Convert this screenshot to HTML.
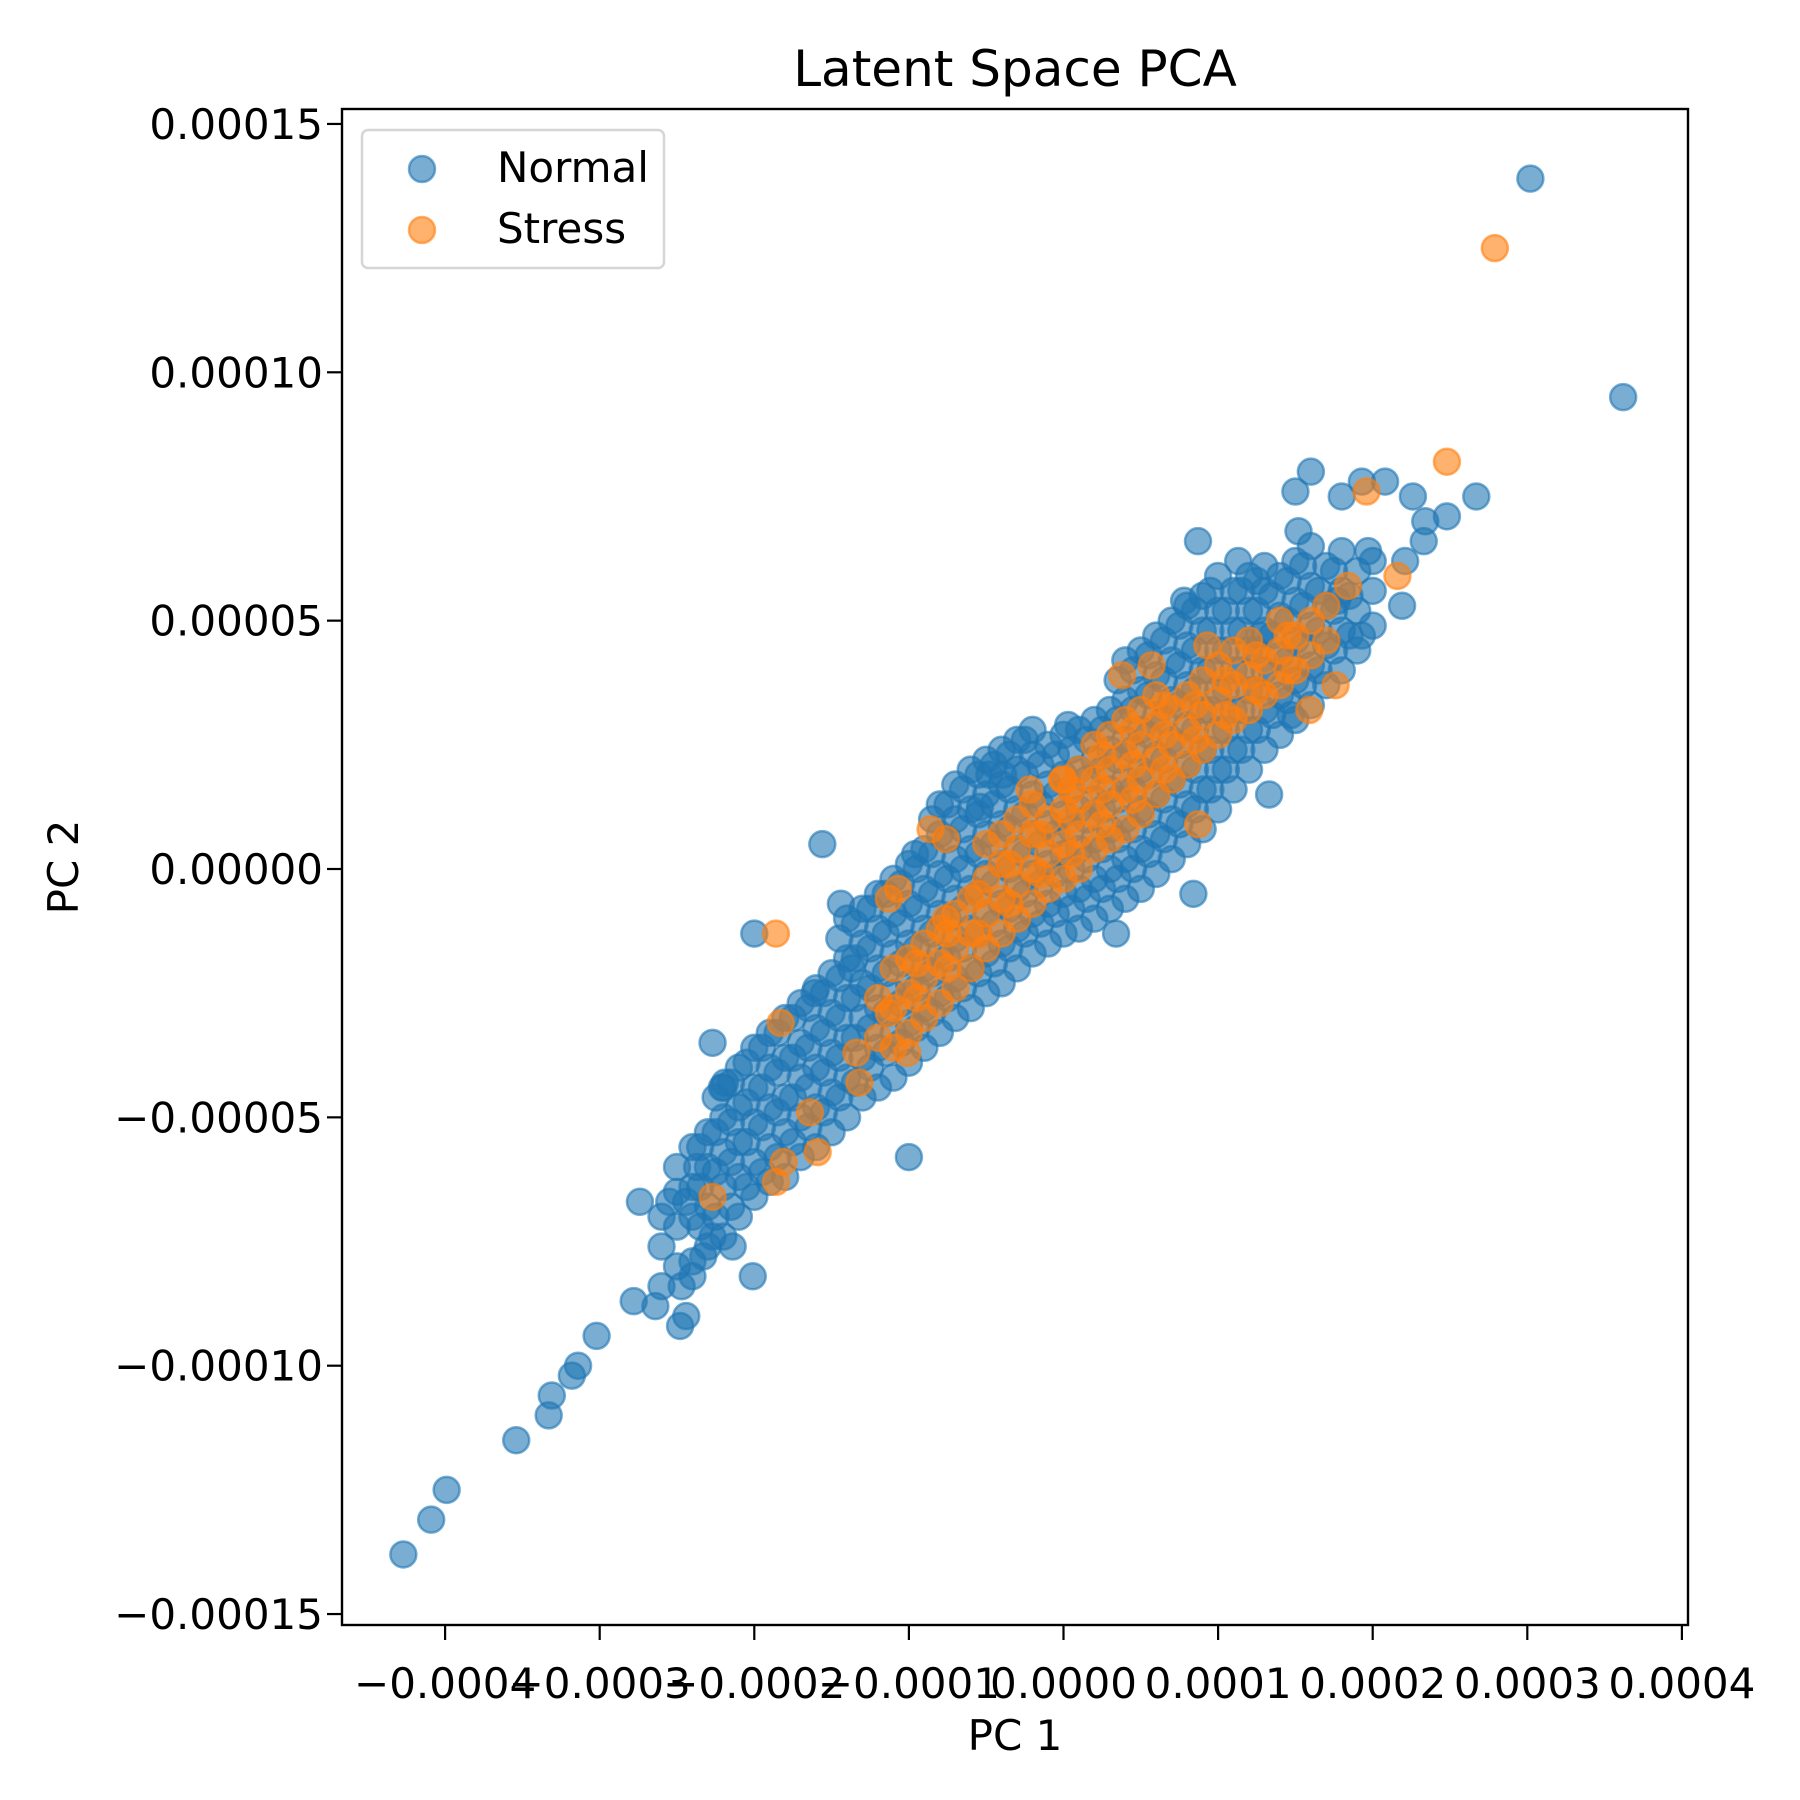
<!DOCTYPE html>
<html><head><meta charset="utf-8"><style>
html,body{margin:0;padding:0;background:#fff;}
svg{display:block;font-family:"DejaVu Sans","Liberation Sans",sans-serif;}
</style></head><body>
<svg id="chart" width="1800" height="1800" viewBox="0 0 1800 1800" xmlns="http://www.w3.org/2000/svg">
<rect width="1800" height="1800" fill="#fff"/>
<text x="1015" y="86" font-size="50" text-anchor="middle">Latent Space PCA</text>
<g id="marks"></g>
<rect x="342" y="109" width="1346" height="1516" fill="none" stroke="#000" stroke-width="2.4"/>
<g id="xticks"></g>
<g id="yticks"></g>
<text x="1015" y="1750" font-size="42" text-anchor="middle">PC 1</text>
<text x="78" y="867" font-size="42" text-anchor="middle" transform="rotate(-90 78 867)">PC 2</text>
<g>
<rect x="362" y="130" width="302" height="138" rx="6" fill="#fff" fill-opacity="0.8" stroke="#d6d6d6" stroke-width="2.5"/>
<circle cx="422" cy="169" r="13" fill="rgba(31,119,180,0.6)" stroke="rgba(31,119,180,0.6)" stroke-width="2.5"/>
<text x="497" y="182" font-size="42">Normal</text>
<circle cx="422" cy="230" r="13" fill="rgba(255,127,14,0.6)" stroke="rgba(255,127,14,0.6)" stroke-width="2.5"/>
<text x="497" y="243" font-size="42">Stress</text>
</g>
</svg>
<script>
// values in units of 1e-5
const xTicks = [-40, -30, -20, -10, 0, 10, 20, 30, 40];
const xTickLabels = ["\u22120.0004","\u22120.0003","\u22120.0002","\u22120.0001","0.0000","0.0001","0.0002","0.0003","0.0004"];
const yTicks = [-15, -10, -5, 0, 5, 10, 15];
const yTickLabels = ["\u22120.00015","\u22120.00010","\u22120.00005","0.00000","0.00005","0.00010","0.00015"];
const normalOutliers = [[30.2,13.9],[36.2,9.5],[-42.7,-13.8],[-40.9,-13.1],[-39.9,-12.5],[-35.4,-11.5],[-33.3,-11.0],[-33.1,-10.6],[-31.8,-10.2],[-31.4,-10.0],[-30.2,-9.4],[-27.8,-8.7],[-26.4,-8.8],[-24.8,-9.2],[-24.4,-9.0],[-24.7,-8.4],[-24,-8.2],[-27.4,-6.7],[-25.5,-6.7],[-24.4,-6.7],[-23.7,-6.0],[-22.7,-3.5],[-22.1,-4.4],[-21.9,-4.3],[-20,-1.3],[-15.6,0.5],[-14.4,-0.7],[-9.6,0.3],[-20.1,-8.2],[-21.4,-7.6],[-23.3,-7.8],[-22.7,-7.4],[-10,-5.8],[-13.7,-2.0],[-16.1,-2.5],[13.3,1.5],[8.4,-0.5],[8.7,6.6],[11.3,6.2],[16,8],[15,7.6],[18,7.5],[19.3,7.8],[20.8,7.8],[22.6,7.5],[26.7,7.5],[24.8,7.1],[23.4,7.0],[23.3,6.6],[22.1,6.2],[21.9,5.3],[19.7,6.4],[15.2,6.8],[17.7,5.4],[19.3,4.7],[0.3,2.9],[-4.8,1.9],[-3.9,1.9],[-5.4,1.25],[14.7,3.1],[7.8,5.4],[12.7,4.7],[3.4,-1.3]];
// rows: x followed by y values
const normalBand = [
[-26,-8.4,-7.6,-7.0],[-25,-8.0,-7.2,-6.5,-6.0],[-24,-7.9,-7.0,-6.4,-5.6],[-23,-7.6,-6.8,-6.0,-5.3],
[-22,-7.4,-6.4,-5.7,-5.0,-4.4],[-21,-7.0,-6.2,-5.5,-4.8,-4.0],[-20,-6.6,-5.9,-5.1,-4.4,-3.6],
[-19,-6.3,-5.6,-4.8,-4.0,-3.3],[-18,-6.2,-5.3,-4.6,-3.8,-3.0],[-17,-5.8,-5.0,-4.2,-3.5,-2.7],
[-16,-5.6,-4.8,-4.0,-3.2,-2.4],[-15,-5.3,-4.5,-3.7,-2.9,-2.1],[-14,-5.0,-4.2,-3.4,-2.6,-1.8,-1.0],
[-13,-4.6,-3.8,-3.0,-2.3,-1.5,-0.8],[-12,-4.4,-3.6,-2.8,-2.0,-1.2,-0.5],[-11,-4.2,-3.3,-2.5,-1.7,-0.9,-0.2],
[-10,-3.9,-3.1,-2.3,-1.5,-0.7,0.1],[-9,-3.6,-2.8,-2.0,-1.2,-0.4,0.4],[-8,-3.3,-2.5,-1.7,-0.9,-0.1,0.7,1.3],
[-7,-3.0,-2.2,-1.4,-0.6,0.2,1.0,1.7],[-6,-2.8,-2.0,-1.2,-0.4,0.4,1.2,2.0],[-5,-2.5,-1.7,-0.9,-0.1,0.7,1.5,2.2],
[-4,-2.3,-1.5,-0.7,0.1,0.9,1.7,2.4],[-3,-2.0,-1.2,-0.4,0.4,1.2,2.0,2.6],[-2,-1.7,-0.9,-0.1,0.7,1.5,2.3,2.8],
[-1,-1.5,-0.7,0.1,0.9,1.7,2.5],[0,-1.3,-0.5,0.3,1.1,1.9,2.7],[1,-1.2,-0.4,0.4,1.2,2.0,2.8],
[2,-1.0,-0.2,0.6,1.4,2.2,3.0],[3,-0.8,0.0,0.8,1.6,2.4,3.2],[4,-0.6,0.2,1.0,1.8,2.6,3.4,4.2],
[5,-0.4,0.4,1.2,2.0,2.8,3.6,4.4],[6,-0.1,0.7,1.5,2.3,3.1,3.9,4.7],[7,0.2,1.0,1.8,2.6,3.4,4.2,5.0],
[8,0.5,1.3,2.1,2.9,3.7,4.5,5.3],[9,0.8,1.6,2.4,3.2,4.0,4.8,5.5],[10,1.2,2.0,2.8,3.6,4.4,5.2,5.9],
[11,1.6,2.4,3.2,4.0,4.8,5.6],[12,2.0,2.8,3.6,4.4,5.2,5.9],[13,2.4,3.2,4.0,4.8,5.6,6.1],
[14,2.7,3.5,4.3,5.1,5.9],[15,3.0,3.8,4.6,5.4,6.2],[16,3.3,4.1,4.9,5.7,6.5],[17,3.7,4.5,5.3,6.1],
[18,4.0,4.8,5.6,6.4],[19,4.4,5.2,6.0],[20,4.9,5.6,6.2]];
const normalBandFill = [
[-23.5,-7.2,-6.4,-5.6],[-22.5,-7.0,-6.1,-5.3,-4.6],[-21.5,-6.8,-5.9,-5.1,-4.3],[-20.5,-6.4,-5.5,-4.7,-3.9],
[-19.5,-6.1,-5.2,-4.4,-3.6],[-18.5,-5.8,-4.9,-4.1,-3.3],[-17.5,-5.5,-4.6,-3.8,-3.0],[-16.5,-5.2,-4.4,-3.6,-2.8],
[-15.5,-4.9,-4.1,-3.3,-2.5],[-14.5,-4.6,-3.8,-3.0,-2.2,-1.4],[-13.5,-4.3,-3.4,-2.6,-1.8,-1.1],
[-12.5,-4.0,-3.2,-2.4,-1.6,-0.8],[-11.5,-3.7,-2.9,-2.1,-1.3,-0.5],[-10.5,-3.5,-2.7,-1.9,-1.1,-0.3],
[-9.5,-3.2,-2.4,-1.6,-0.8,0.0],[-8.5,-2.9,-2.1,-1.3,-0.5,0.3,1.0],[-7.5,-2.6,-1.8,-1.0,-0.2,0.6,1.3],
[-6.5,-2.4,-1.6,-0.8,0.0,0.8,1.6],[-5.5,-2.1,-1.3,-0.5,0.3,1.1,1.9],[-4.5,-1.9,-1.1,-0.3,0.5,1.3,2.1],
[-3.5,-1.6,-0.8,0.0,0.8,1.6,2.3],[-2.5,-1.3,-0.5,0.3,1.1,1.9,2.6],[-1.5,-1.1,-0.3,0.5,1.3,2.1],
[-0.5,-0.9,-0.1,0.7,1.5,2.3],[0.5,-0.8,0.0,0.8,1.6,2.4],[1.5,-0.6,0.2,1.0,1.8,2.6],[2.5,-0.4,0.4,1.2,2.0,2.8],
[3.5,-0.2,0.6,1.4,2.2,3.0,3.8],[4.5,0.0,0.8,1.6,2.4,3.2,4.0],[5.5,0.3,1.1,1.9,2.7,3.5,4.3],
[6.5,0.6,1.4,2.2,3.0,3.8,4.6],[7.5,0.9,1.7,2.5,3.3,4.1,4.9],[8.5,1.2,2.0,2.8,3.6,4.4,5.2],
[9.5,1.6,2.4,3.2,4.0,4.8,5.6],[10.5,2.0,2.8,3.6,4.4,5.2],[11.5,2.4,3.2,4.0,4.8,5.6],[12.5,2.8,3.6,4.4,5.2,5.8],
[13.5,3.1,3.9,4.7,5.5],[14.5,3.4,4.2,5.0,5.8],[15.5,3.7,4.5,5.3,6.1],[16.5,4.0,4.8,5.6],[17.5,4.4,5.2,6.0],[18.5,4.7,5.5]];
const stressOutliers = [[27.9,12.5],[24.8,8.2],[19.6,7.6],[21.6,5.9],[18.4,5.7],[17.6,3.7],[15.9,3.2],[3.8,3.9],[5.7,4.1],[9.3,4.5],[-8.6,0.8],[-7.6,0.6],[-11.3,-0.6],[-10.7,-0.4],[-18.6,-1.3],[-18.3,-3.1],[-18.6,-6.3],[-18.1,-5.9],[-22.7,-6.6],[-16.4,-4.9],[-15.9,-5.7],[-13.4,-3.7],[-13.2,-4.3],[-11.3,-2.9],[-10.1,-3.7],[-7.6,-1.0],[8.7,0.9],[-2.2,1.6],[-0.1,1.8]];
const stressCore = [
[-12,-3.4,-2.6],[-11,-3.6,-2.8,-2.0],[-10,-3.3,-2.5,-1.8],[-9,-3.0,-2.2,-1.5],[-8,-2.7,-1.9,-1.2],
[-7,-2.4,-1.6,-0.9],[-6,-2.0,-1.3,-0.6],[-5,-1.6,-0.9,-0.2,0.5],[-4,-1.3,-0.6,0.1,0.7],[-3,-1.0,-0.3,0.4,1.0],
[-2,-0.7,0.0,0.7,1.3],[-1,-0.4,0.3,1.0],[0,-0.2,0.5,1.2,1.8],[1,0.0,0.7,1.4,2.0],[2,0.4,1.1,1.8,2.5],
[3,0.6,1.3,2.0,2.7],[4,0.8,1.6,2.3,3.0],[5,1.1,1.8,2.5,3.2],[6,1.5,2.2,2.9,3.5],[7,1.8,2.5,3.2],
[8,2.1,2.8,3.5],[9,2.4,3.1,3.8],[10,2.7,3.4,4.1],[11,3.0,3.7,4.4],[12,3.2,3.9,4.6],[13,3.5,4.2],
[14,3.7,4.4,5.0],[15,4.0,4.7],[16,4.3,5.0],[17,4.6,5.3]];
const stressCoreFill = [
[-9.5,-2.6,-1.9],[-7.5,-2.0,-1.3],[-5.5,-1.3,-0.5],[-3.5,-0.7,0.1],[-1.5,-0.1,0.7],[0.5,0.3,1.0,1.6],
[2.5,0.9,1.6,2.3],[4.5,1.4,2.1,2.8],[6.5,2.0,2.7,3.3],[8.5,2.6,3.3],[10.5,3.1,3.8],[12.5,3.6,4.3],[14.5,4.0,4.7]];

const NS = "http://www.w3.org/2000/svg";
function xScale(v){ return 1063.5 + v * 15.46; }
function yScale(v){ return 869 - v * 49.67; }
function expand(rows, extra){
  const pts = [];
  rows.forEach(r => { for (let i = 1; i < r.length; i++) pts.push([r[0], r[i]]); });
  return pts.concat(extra);
}
const marks = document.getElementById('marks');
function drawSeries(points, color, name){
  const g = document.createElementNS(NS, 'g');
  
  
  points.forEach(p => {
    const c = document.createElementNS(NS, 'circle');
    
    
    c.setAttribute('cx', xScale(p[0]));
    c.setAttribute('cy', yScale(p[1]));
    c.setAttribute('r', 13);
    c.setAttribute('fill', color);
    c.setAttribute('fill-opacity', 0.6);
    c.setAttribute('stroke', color);
    c.setAttribute('stroke-opacity', 0.6);
    c.setAttribute('stroke-width', 2.5);
    g.appendChild(c);
  });
  marks.appendChild(g);
}
drawSeries(expand(normalBand.concat(normalBandFill), normalOutliers), '#1f77b4', 'series-normal');
drawSeries(expand(stressCore.concat(stressCoreFill), stressOutliers), '#ff7f0e', 'series-stress');

const xg = document.getElementById('xticks');
xTicks.forEach((t, i) => {
  const x = xScale(t);
  const l = document.createElementNS(NS, 'line');
  
  
  l.setAttribute('x1', x); l.setAttribute('x2', x);
  l.setAttribute('y1', 1625); l.setAttribute('y2', 1640);
  l.setAttribute('stroke', '#000'); l.setAttribute('stroke-width', 2.2);
  xg.appendChild(l);
  const tx = document.createElementNS(NS, 'text');
  
  
  tx.setAttribute('x', x); tx.setAttribute('y', 1698);
  tx.setAttribute('font-size', 42);
  tx.setAttribute('text-anchor', 'middle');
  tx.textContent = xTickLabels[i];
  xg.appendChild(tx);
});
const yg = document.getElementById('yticks');
yTicks.forEach((t, i) => {
  const y = yScale(t);
  const l = document.createElementNS(NS, 'line');
  
  
  l.setAttribute('x1', 327); l.setAttribute('x2', 342);
  l.setAttribute('y1', y); l.setAttribute('y2', y);
  l.setAttribute('stroke', '#000'); l.setAttribute('stroke-width', 2.2);
  yg.appendChild(l);
  const tx = document.createElementNS(NS, 'text');
  
  
  tx.setAttribute('x', 323); tx.setAttribute('y', y + 15);
  tx.setAttribute('font-size', 42);
  tx.setAttribute('text-anchor', 'end');
  tx.textContent = yTickLabels[i];
  yg.appendChild(tx);
});
</script>
</body></html>
